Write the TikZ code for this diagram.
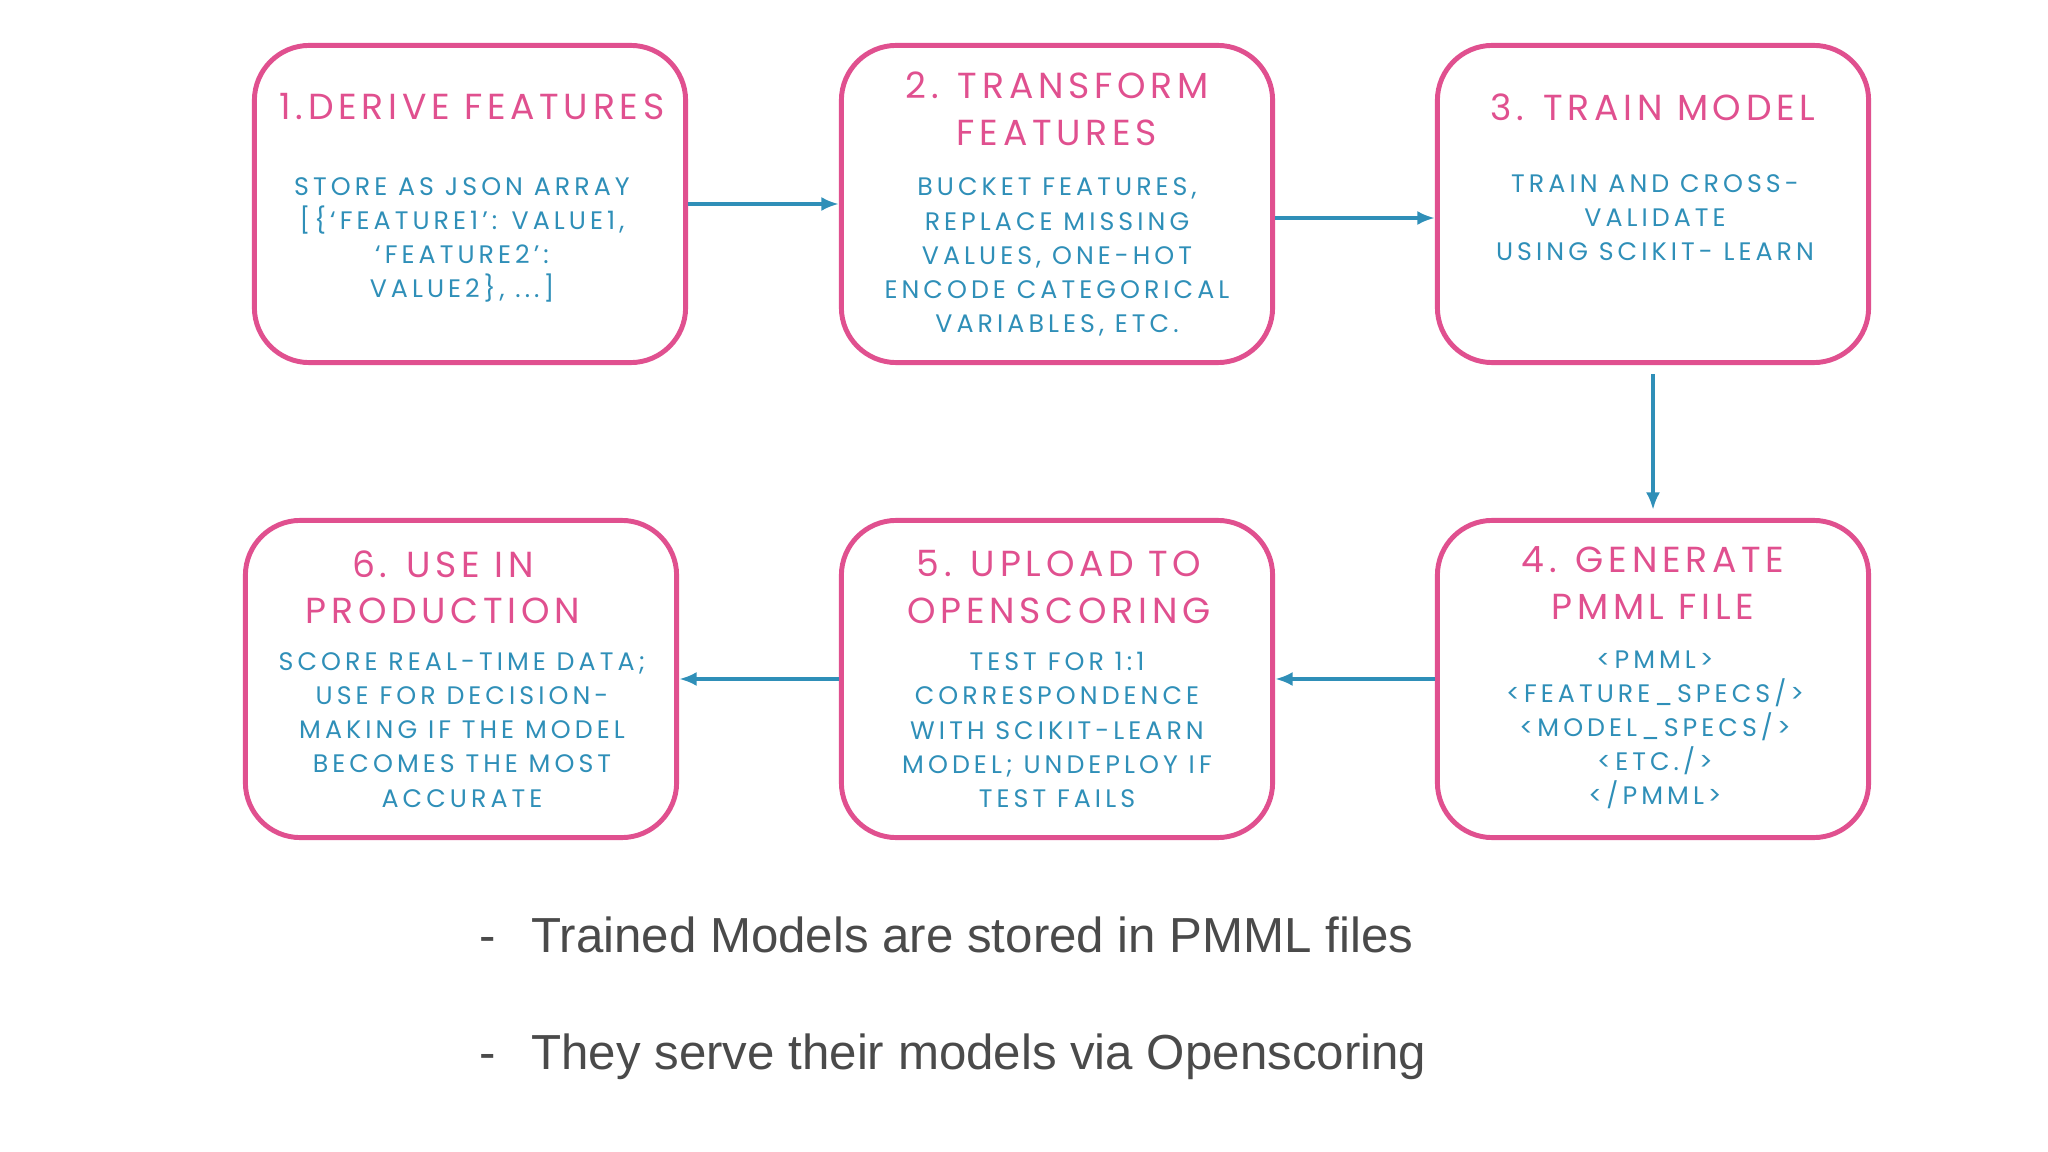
\documentclass[tikz,border=0pt]{standalone}
\usepackage{fontspec}
\usetikzlibrary{arrows.meta}
\setmainfont{Liberation Sans}
\newfontfamily\boxfont[LetterSpace=13]{Poppins}
\newfontfamily\bodyfont[LetterSpace=16]{Poppins}
\definecolor{pinkc}{HTML}{E0508F}
\definecolor{bluec}{HTML}{2F8FB8}
\definecolor{grayc}{HTML}{4A4A4A}
\begin{document}
\begin{tikzpicture}[x=0.01cm,y=-0.01cm,
  box/.style={draw=pinkc,line width=1.4pt,rounded corners=0.55cm,minimum width=4.31cm,minimum height=3.17cm,inner sep=0},
  ttl/.style={text=pinkc,font=\boxfont\fontsize{10.3}{13.2}\selectfont,align=center},
  bdy/.style={text=bluec,font=\bodyfont\fontsize{7.2}{9.7}\selectfont,align=center},
  arr/.style={draw=bluec,line width=1.1pt,-{Latex[length=5pt,width=4pt]}},
  bul/.style={text=grayc,font=\fontsize{14}{17}\selectfont,anchor=base west}]
\useasboundingbox (0,0) rectangle (2048,1152);
\node[box] (b1) at (470,204) {};
\node[box] (b2) at (1057,204) {};
\node[box] (b3) at (1653,204) {};
\node[box] (b4) at (1653,679) {};
\node[box] (b5) at (1057,679) {};
\node[box] (b6) at (461,679) {};
\node[ttl] (t1) at (472,107) {1.DERIVE FEATURES};
\node[bdy] (d1) at (462,240) {STORE AS JSON ARRAY\\{}[\{‘FEATURE1’: VALUE1,\\‘FEATURE2’:\\VALUE2\}, ...]};
\node[ttl] (t2) at (1057,109) {2. TRANSFORM\\FEATURES};
\node[bdy] (d2) at (1057,257) {BUCKET FEATURES,\\REPLACE MISSING\\VALUES, ONE-HOT\\ENCODE CATEGORICAL\\VARIABLES, ETC.};
\node[ttl] (t3) at (1653,107) {3. TRAIN MODEL};
\node[bdy] (d3) at (1655,218) {TRAIN AND CROSS-\\VALIDATE\\USING SCIKIT- LEARN};
\node[ttl] (t4) at (1653,583) {4. GENERATE\\PMML FILE};
\node[bdy] (d4) at (1655,730) {<PMML>\\<FEATURE\_SPECS/>\\<MODEL\_SPECS/>\\<ETC./>\\</PMML>};
\node[ttl] (t5) at (1059,587) {5. UPLOAD TO\\OPENSCORING};
\node[bdy] (d5) at (1057,730) {TEST FOR 1:1\\CORRESPONDENCE\\WITH SCIKIT-LEARN\\MODEL; UNDEPLOY IF\\TEST FAILS};
\node[ttl] (t6) at (443,587) {6. USE IN\\PRODUCTION};
\node[bdy] (d6) at (462,730) {SCORE REAL-TIME DATA;\\USE FOR DECISION-\\MAKING IF THE MODEL\\BECOMES THE MOST\\ACCURATE};
\draw[arr] (b1.east) -- (b2.west);
\draw[arr] ([yshift=-0.14cm]b2.east) -- ([yshift=-0.14cm]b3.west);
\draw[arr] ([yshift=-0.09cm]b3.south) -- ([yshift=0.08cm]b4.north);
\draw[arr] (b4.west) -- (b5.east);
\draw[arr] (b5.west) -- (b6.east);
\node[bul] (m1) at (467,952) {-};
\node[bul] (l1) at (519,952) {Trained Models are stored in PMML files};
\node[bul] (m2) at (467,1069) {-};
\node[bul] (l2) at (519,1069) {They serve their models via Openscoring};
\end{tikzpicture}
\end{document}
